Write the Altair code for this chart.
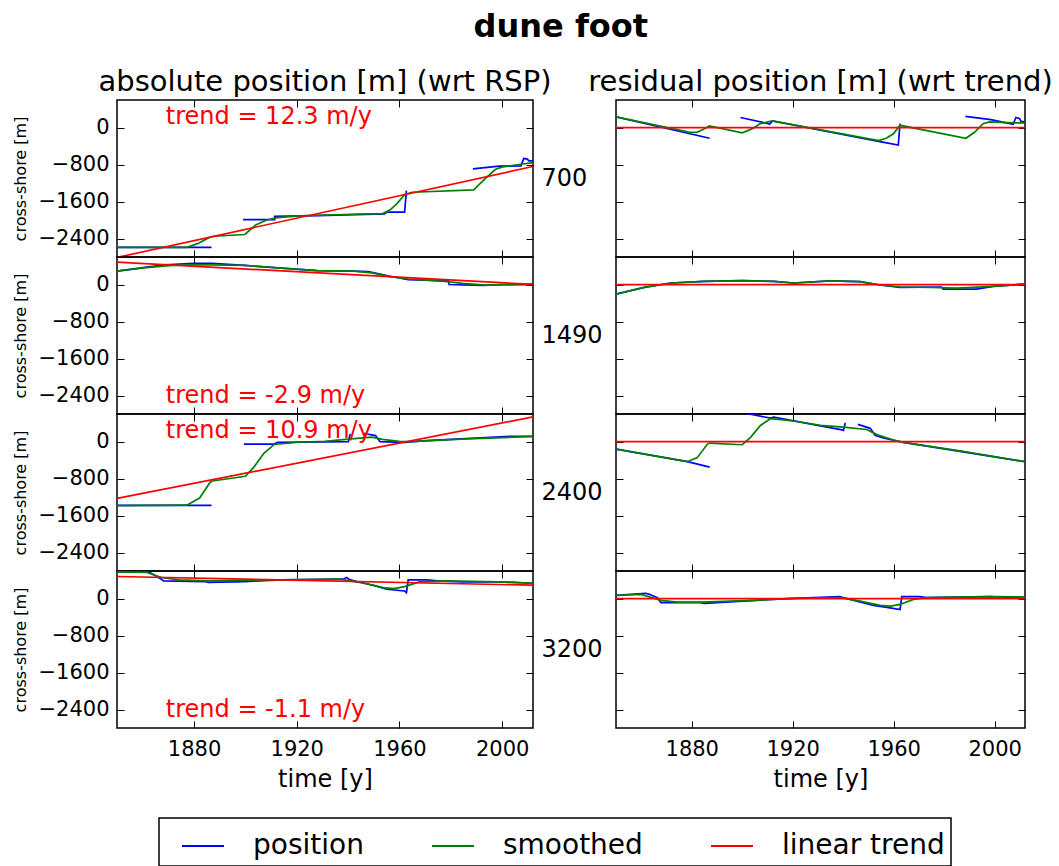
import altair as alt
import pandas as pd

FONT = "DejaVu Sans"
X_DOMAIN = [1850, 2012]
Y_DOMAIN = [-2800, 600]
X_TICKS = [1880, 1920, 1960, 2000]
Y_TICKS = [-2400, -1600, -800, 0]
SERIES = ["position", "smoothed", "linear trend"]
COLORS = ["#0000ff", "#008000", "#ff0000"]
TRANSECTS = ["700", "1490", "2400", "3200"]
TREND_TEXT = ["trend = 12.3 m/y", "trend = -2.9 m/y", "trend = 10.9 m/y", "trend = -1.1 m/y"]
TREND_TEXT_YEAR = [1869, 1869, 1869, 1869]
TREND_TEXT_VALUE = [235, -2420, 230, -2420]
TREND_YEARS = [1850, 2012]
RESIDUAL_TREND = [0, 0]

# ---- transect 700 ----
pos_abs_700_year = [1850, 1886.8, None, 1899.1, 1911.4, 1911.4, 1928, 1954.2, 1955, 1962, 1962.7, None,
                    1988.6, 1998.8, 2007.3, 2008.4, 2009.8, 2010.4, 2012]
pos_abs_700 = [-2591, -2591, None, -1991, -1991, -1918, -1903, -1867, -1830, -1830, -1362, None,
               -893, -834, -827, -666, -681, -717, -717]
smooth_abs_700_year = [1850, 1877.2, 1881.4, 1885.6, 1887.8, 1899.8, 1904, 1908.3, 1912.5, 1921, 1942.2,
                       1953.5, 1956.4, 1959.2, 1962, 1964.9, 1988.9, 1993.1, 1997.4, 2000.2, 2007.3, 2012]
smooth_abs_700 = [-2591, -2591, -2511, -2386, -2350, -2313, -2108, -1998, -1947, -1911, -1874,
                  -1859, -1779, -1632, -1450, -1398, -1347, -1120, -900, -849, -791, -754]
trend_abs_700 = [-2810, -840]
pos_res_700_year = [1850, 1887.1, None, 1899.3, 1910.9, 1912, 1954, 1961.8, 1962.5, None,
                    1988.4, 1998.5, 2007.3, 2008.4, 2009.8, 2010.4, 2012]
pos_res_700 = [236, -228, None, 221, 81, 147, -295, -376, 88, None, 245, 175, 75, 220, 200, 140, 125]
smooth_res_700_year = [1850, 1878.9, 1882, 1884.5, 1887, 1900, 1904, 1907.2, 1911.8, 1954, 1957, 1959.9,
                       1962.5, 1988.6, 1992, 1995.4, 1998, 2005, 2012]
smooth_res_700 = [236, -96, -100, -40, 37, -110, -20, 88, 147, -280, -230, -133, 52, -228, -100, 88, 125,
                  110, 103]

# ---- transect 1490 ----
pos_abs_1490_year = [1850, 1861.6, 1868.7, 1880, 1887, 1899.8, 1914, 1928, 1942.2, 1947.9, 1956.4, 1963.4,
                     1979, 1979.3, 1985, 1993, 1998.8, 2012]
pos_abs_1490 = [293, 381, 432, 461, 461, 417, 359, 307, 293, 285, 183, 110, 85, 5, -5, -15, 0, 7]
smooth_abs_1490_year = [1850, 1860.2, 1871.5, 1880, 1899.8, 1914, 1928, 1942.2, 1949.3, 1956.4, 1963.4,
                        1977.6, 1984.7, 1993.2, 2012]
smooth_abs_1490 = [293, 366, 417, 432, 417, 359, 307, 293, 256, 176, 124, 73, 29, -7, 7]
trend_abs_1490 = [490, 7]
pos_res_1490_year = [1850, 1861.2, 1871.7, 1884.9, 1900, 1912.5, 1920.4, 1934.9, 1946.7, 1954.6, 1962.5,
                     1978.9, 1979.6, 1992.8, 1999.3, 2012]
pos_res_1490 = [-205, -59, 37, 73, 88, 73, 37, 81, 66, -7, -59, -50, -95, -95, -37, 15]
smooth_res_1490_year = [1850, 1861.2, 1871.7, 1884.9, 1900, 1912.5, 1920.4, 1934.9, 1946.7, 1954.6, 1962.5,
                        1975, 1985, 1999.3, 2012]
smooth_res_1490 = [-205, -59, 37, 73, 88, 73, 37, 81, 66, -7, -50, -60, -73, -37, 15]

# ---- transect 2400 ----
pos_abs_2400_year = [1850, 1886.8, None, 1899.4, 1911.1, 1912.5, 1940.1, 1940.8, None, 1945.8, 1950.7,
                     1952.4, 1962, 1970.5, 2003, 2012]
pos_abs_2400 = [-1380, -1380, None, -51, -51, -15, 0, 169, None, 183, 132, 0, -15, 22, 117, 117]
smooth_abs_2400_year = [1850, 1877.2, 1882.2, 1886.2, 1887.1, 1900, 1903.3, 1907.2, 1911.2, 1920.4, 1930.9,
                        1940.1, 1949.3, 1953.3, 1959.9, 1963.8, 1986.2, 2012]
smooth_abs_2400 = [-1385, -1375, -1220, -883, -851, -748, -550, -252, -60, -12, 7, 55, 100, 50, 10, 0, 60,
                   115]
trend_abs_2400 = [-1226, 536]
pos_res_2400_year = [1850, 1878.3, 1887.1, None, 1899.4, 1911.1, 1912.5, 1939.5, 1940.1, 1940.8, None,
                     1945.8, 1950.7, 1952.6, 1955.9, 1963.8, 2012]
pos_res_2400 = [-161, -433, -550, None, 638, 510, 531, 257, 244, 407, None, 374, 290, 140, 81, -15, -433]
smooth_res_2400_year = [1850, 1878.3, 1882.2, 1886.2, 1887.1, 1900, 1903.3, 1907.2, 1911.2, 1920.4, 1930.9,
                        1940.1, 1949.3, 1953.3, 1959.9, 1963.8, 1986.2, 2012]
smooth_res_2400 = [-161, -433, -345, -51, -29, -66, 95, 352, 499, 448, 352, 315, 264, 154, 37, -15, -198,
                   -433]

# ---- transect 3200 ----
pos_abs_3200_year = [1850, 1862.3, 1867.3, 1868.1, 1884.2, 1885.6, 1899.8, 1914, 1938, 1939.4, 1940.8,
                     1945, 1950.7, 1955, 1962, 1962.7, 1963.4, 1970.5, 1974.8, 1984.7, 1998.8, 2012]
pos_abs_3200 = [583, 583, 423, 386, 372, 355, 372, 408, 423, 459, 408, 350, 277, 204, 168, 131, 408, 408,
                386, 365, 365, 335]
smooth_abs_3200_year = [1850, 1861.6, 1867.3, 1874.3, 1885.6, 1914, 1936.6, 1945, 1953.7, 1957.8, 1962,
                        1967.7, 1977.6, 1998.8, 2012]
smooth_abs_3200 = [583, 569, 459, 408, 386, 408, 423, 350, 241, 219, 262, 365, 386, 365, 335]
trend_abs_3200 = [481, 292]
pos_res_3200_year = [1850, 1861.8, 1863.2, 1866.4, 1867.8, 1870.4, 1883.6, 1884.9, 1907.2, 1920.4, 1938.8,
                     1940.1, 1945.4, 1952, 1958.6, 1962.5, 1963.2, 1970.4, 1973, 1998, 2012]
pos_res_3200 = [73, 117, 95, 22, -87, -87, -87, -102, -29, 7, 44, 22, -51, -146, -197, -233, 44, 44, 22,
                44, 22]
smooth_res_3200_year = [1850, 1859.9, 1867.8, 1874.3, 1883.6, 1907.2, 1920.4, 1938.8, 1946.7, 1954.6,
                        1958.6, 1962.5, 1967.8, 1973, 1998, 2012]
smooth_res_3200 = [73, 95, -36, -73, -73, -29, 7, 22, -51, -146, -160, -124, -15, 22, 44, 36]

ABSOLUTE = [
    (pos_abs_700_year, pos_abs_700, smooth_abs_700_year, smooth_abs_700, trend_abs_700),
    (pos_abs_1490_year, pos_abs_1490, smooth_abs_1490_year, smooth_abs_1490, trend_abs_1490),
    (pos_abs_2400_year, pos_abs_2400, smooth_abs_2400_year, smooth_abs_2400, trend_abs_2400),
    (pos_abs_3200_year, pos_abs_3200, smooth_abs_3200_year, smooth_abs_3200, trend_abs_3200),
]
RESIDUAL = [
    (pos_res_700_year, pos_res_700, smooth_res_700_year, smooth_res_700, RESIDUAL_TREND),
    (pos_res_1490_year, pos_res_1490, smooth_res_1490_year, smooth_res_1490, RESIDUAL_TREND),
    (pos_res_2400_year, pos_res_2400, smooth_res_2400_year, smooth_res_2400, RESIDUAL_TREND),
    (pos_res_3200_year, pos_res_3200, smooth_res_3200_year, smooth_res_3200, RESIDUAL_TREND),
]

TICK = 7
LW = 1.7
W_L, W_R, H = 416, 409, 157


def to_frame(years, values, series):
    rows, seg = [], 0
    for k, (x, v) in enumerate(zip(years, values)):
        if x is None or v is None:
            seg += 1
            continue
        rows.append({"year": x, "value": v, "seg": seg, "k": k, "series": series})
    return pd.DataFrame(rows)


xs = alt.Scale(domain=X_DOMAIN, nice=False, zero=False)
ys = alt.Scale(domain=Y_DOMAIN, nice=False, zero=False)
cs = alt.Scale(domain=SERIES, range=COLORS)


def make_axis(orient, labels, title=None, **extra):
    kw = dict(orient=orient, domain=False, grid=False, ticks=True, tickSize=TICK, offset=-TICK,
              tickColor="black", tickWidth=1, labels=labels, labelFont=FONT, labelFontSize=21,
              labelColor="black", labelFlush=False, labelPadding=8, format="d",
              titleFont=FONT, titleColor="black", titleFontWeight="normal", title=title,
              values=X_TICKS if orient in ("top", "bottom") else Y_TICKS)
    kw.update(extra)
    return alt.Axis(**kw)


def panel(t, col):
    last = t == 3
    pos_y, pos_v, sm_y, sm_v, tr_v = (ABSOLUTE if col == 0 else RESIDUAL)[t]
    width = W_L if col == 0 else W_R
    if last:
        x_main = make_axis("bottom", True, "time [y]", titleFontSize=24, titlePadding=8, labelPadding=10)
    else:
        x_main = make_axis("bottom", False)
    if col == 0:
        y_main = make_axis("left", True, "cross-shore [m]", titleFontSize=16, titlePadding=9)
    else:
        y_main = make_axis("left", False, TRANSECTS[t], titleFontSize=24, titleAngle=0,
                           titleAlign="left", titleBaseline="middle", titleX=-82, titleY=H / 2)
    legend = alt.Legend(title=None)
    l_pos = alt.Chart(to_frame(pos_y, pos_v, "position")).mark_line(clip=True, strokeWidth=LW).encode(
        x=alt.X("year:Q", scale=xs, axis=x_main),
        y=alt.Y("value:Q", scale=ys, axis=y_main),
        color=alt.Color("series:N", scale=cs, legend=legend),
        detail="seg:N", order="k:Q")
    l_sm = alt.Chart(to_frame(sm_y, sm_v, "smoothed")).mark_line(clip=True, strokeWidth=LW).encode(
        x=alt.X("year:Q", scale=xs, axis=None),
        y=alt.Y("value:Q", scale=ys, axis=None),
        color=alt.Color("series:N", scale=cs, legend=legend),
        detail="seg:N", order="k:Q")
    l_tr = alt.Chart(to_frame(TREND_YEARS, tr_v, "linear trend")).mark_line(clip=True, strokeWidth=LW).encode(
        x=alt.X("year:Q", scale=xs, axis=make_axis("top", False)),
        y=alt.Y("value:Q", scale=ys, axis=make_axis("right", False)),
        color=alt.Color("series:N", scale=cs, legend=legend),
        order="k:Q")
    layers = [l_pos, l_sm, l_tr]
    if col == 0:
        tdf = pd.DataFrame({"year": [TREND_TEXT_YEAR[t]], "value": [TREND_TEXT_VALUE[t]],
                            "label": [TREND_TEXT[t]]})
        l_txt = alt.Chart(tdf).mark_text(align="left", baseline="middle", color="red", fontSize=24,
                                         font=FONT).encode(
            x=alt.X("year:Q", scale=xs, axis=None),
            y=alt.Y("value:Q", scale=ys, axis=None),
            text="label:N")
        layers.append(l_txt)
    ch = alt.layer(*layers).resolve_axis(x="independent", y="independent").properties(width=width, height=H)
    if t == 0:
        txt = "absolute position [m] (wrt RSP)" if col == 0 else "residual position [m] (wrt trend)"
        ch = ch.properties(title=alt.TitleParams(text=txt, fontSize=29, font=FONT, fontWeight="normal",
                                                 anchor="middle", offset=3, frame="group", color="black"))
    return ch


cells = []
for t in range(4):
    cells.append(panel(t, 0))
    cells.append(panel(t, 1))

chart = alt.concat(*cells, columns=2, spacing={"row": 0, "column": 83}, bounds="flush").properties(
    title=alt.TitleParams(text="dune foot", fontSize=32, fontWeight="bold", font=FONT, anchor="middle",
                          baseline="top", offset=23, frame="bounds", dx=28, color="black"),
    padding={"left": 12, "top": 10, "right": 5, "bottom": 5},
).resolve_scale(color="shared").configure(font=FONT).configure_view(
    stroke="black", strokeWidth=1.5
).configure_legend(
    orient="none", legendX=42, legendY=718, direction="horizontal", symbolType="stroke",
    symbolSize=1764, symbolStrokeWidth=2, labelFontSize=28, labelFont=FONT, labelColor="black",
    labelOffset=28, labelLimit=0, columnPadding=51, symbolOffset=16, padding=6, strokeColor="black",
    strokeWidth=1.5, fillColor="white"
)

chart.save("out.html", embed_options={"renderer": "svg", "actions": False})
